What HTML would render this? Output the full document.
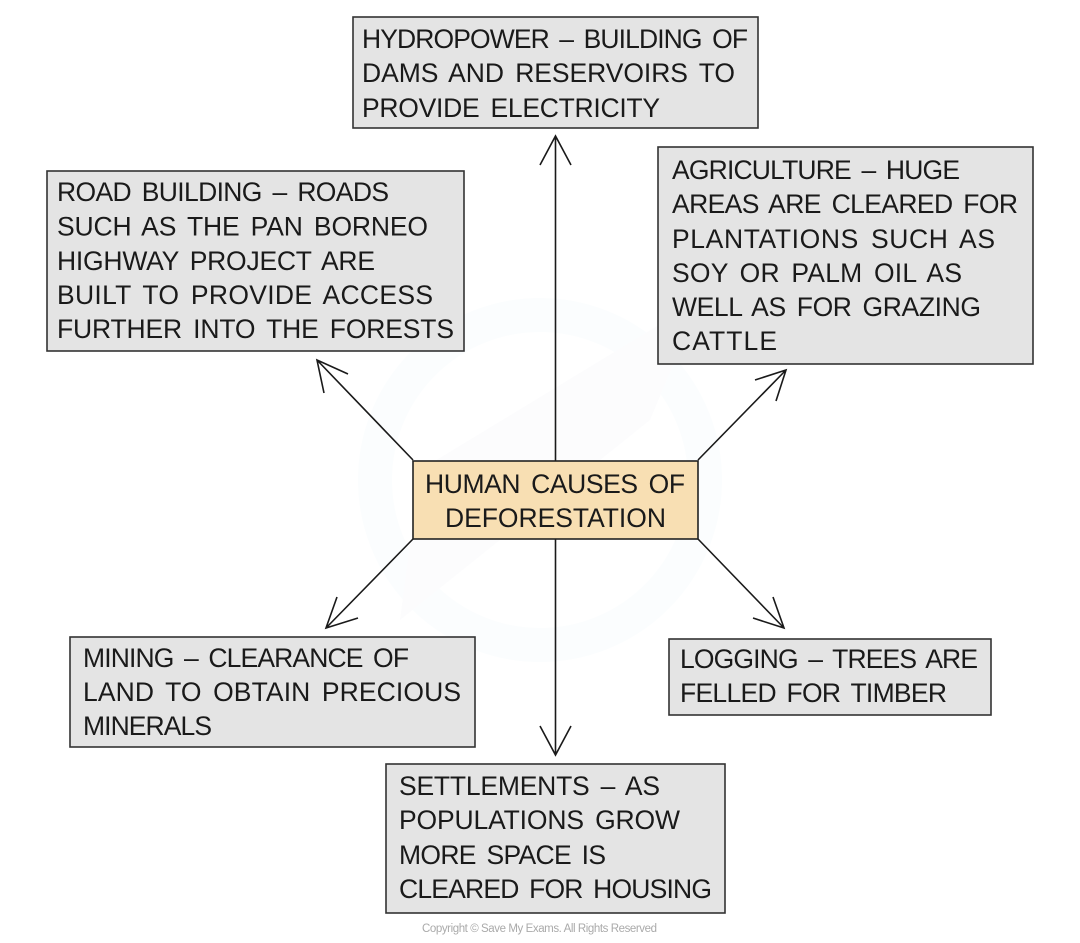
<!DOCTYPE html>
<html lang="en">
<head>
<meta charset="utf-8">
<title>Human causes of deforestation</title>
<style>
html,body{margin:0;padding:0;background:#fff;width:1080px;height:943px;overflow:hidden}
svg{display:block}
text{font-family:"Liberation Sans",sans-serif;font-size:26.5px;fill:#1a1a1a;word-spacing:4px}
.box{fill:#e4e4e4;stroke:#333;stroke-width:1.6}
.ctr{fill:#f8dfb3;stroke:#222;stroke-width:1.6}
.ln{fill:none;stroke:#1a1a1a;stroke-width:1.6;stroke-linejoin:miter}
text.c{font-size:11.5px;fill:#aaa;word-spacing:0}
</style>
</head>
<body>
<svg xmlns="http://www.w3.org/2000/svg" width="1080" height="943" viewBox="0 0 1080 943">
<rect width="1080" height="943" fill="#fff"/>
<!-- faint watermark -->
<g fill="none">
<circle cx="540" cy="480" r="165" stroke="#fbfdfe" stroke-width="34"/>
<path d="M400 620 L650 420 L700 300 L420 470 Z" fill="#fcfcfd" stroke="none"/>
</g>
<!-- connectors -->
<path class="ln" d="M555.5 461V137M540 165L555.5 136L571 165"/>
<path class="ln" d="M555.5 539V755M540 726L555.5 755L571 726"/>
<path class="ln" d="M413 460L317 360M348 374L317 360L324 393"/>
<path class="ln" d="M698 460L786 370M755 380L786 370L776 401"/>
<path class="ln" d="M413 539L326 628M337 597L326 628L358 618"/>
<path class="ln" d="M698 539L784 628M773 597L784 628L753 618"/>
<!-- boxes -->
<rect class="box" x="353" y="17" width="405" height="111"/>
<rect class="box" x="47" y="171" width="417" height="180"/>
<rect class="box" x="658" y="147" width="375" height="217"/>
<rect class="ctr" x="413" y="461" width="285" height="78"/>
<rect class="box" x="70" y="637" width="405" height="110"/>
<rect class="box" x="669" y="639" width="322" height="76"/>
<rect class="box" x="386" y="764" width="339" height="149"/>
<!-- hydropower -->
<text x="362" y="48" textLength="386" lengthAdjust="spacing">HYDROPOWER – BUILDING OF</text>
<text x="362" y="82" textLength="373" lengthAdjust="spacing">DAMS AND RESERVOIRS TO</text>
<text x="362" y="117" textLength="298" lengthAdjust="spacing">PROVIDE ELECTRICITY</text>
<!-- road building -->
<text x="57" y="201" textLength="332" lengthAdjust="spacing">ROAD BUILDING – ROADS</text>
<text x="57" y="235.5" textLength="371" lengthAdjust="spacing">SUCH AS THE PAN BORNEO</text>
<text x="57" y="270" textLength="318" lengthAdjust="spacing">HIGHWAY PROJECT ARE</text>
<text x="57" y="304" textLength="376" lengthAdjust="spacing">BUILT TO PROVIDE ACCESS</text>
<text x="57" y="338" textLength="397" lengthAdjust="spacing">FURTHER INTO THE FORESTS</text>
<!-- agriculture -->
<text x="672" y="179" textLength="288" lengthAdjust="spacing">AGRICULTURE – HUGE</text>
<text x="672" y="213" textLength="346" lengthAdjust="spacing">AREAS ARE CLEARED FOR</text>
<text x="672" y="248" textLength="323" lengthAdjust="spacing">PLANTATIONS SUCH AS</text>
<text x="672" y="282" textLength="290" lengthAdjust="spacing">SOY OR PALM OIL AS</text>
<text x="672" y="316" textLength="309" lengthAdjust="spacing">WELL AS FOR GRAZING</text>
<text x="672" y="350" textLength="105" lengthAdjust="spacing">CATTLE</text>
<!-- centre -->
<text x="425" y="493" textLength="260" lengthAdjust="spacing">HUMAN CAUSES OF</text>
<text x="445" y="527" textLength="221" lengthAdjust="spacing">DEFORESTATION</text>
<!-- mining -->
<text x="83" y="667" textLength="326" lengthAdjust="spacing">MINING – CLEARANCE OF</text>
<text x="83" y="701" textLength="378" lengthAdjust="spacing">LAND TO OBTAIN PRECIOUS</text>
<text x="83" y="735" textLength="129" lengthAdjust="spacing">MINERALS</text>
<!-- logging -->
<text x="680" y="668" textLength="298" lengthAdjust="spacing">LOGGING – TREES ARE</text>
<text x="680" y="702" textLength="267" lengthAdjust="spacing">FELLED FOR TIMBER</text>
<!-- settlements -->
<text x="399" y="795" textLength="261" lengthAdjust="spacing">SETTLEMENTS – AS</text>
<text x="399" y="829" textLength="281" lengthAdjust="spacing">POPULATIONS GROW</text>
<text x="399" y="864" textLength="207" lengthAdjust="spacing">MORE SPACE IS</text>
<text x="399" y="898" textLength="313" lengthAdjust="spacing">CLEARED FOR HOUSING</text>
<!-- copyright -->
<text class="c" x="422" y="932" textLength="235" lengthAdjust="spacing">Copyright © Save My Exams. All Rights Reserved</text>
</svg>
</body>
</html>
